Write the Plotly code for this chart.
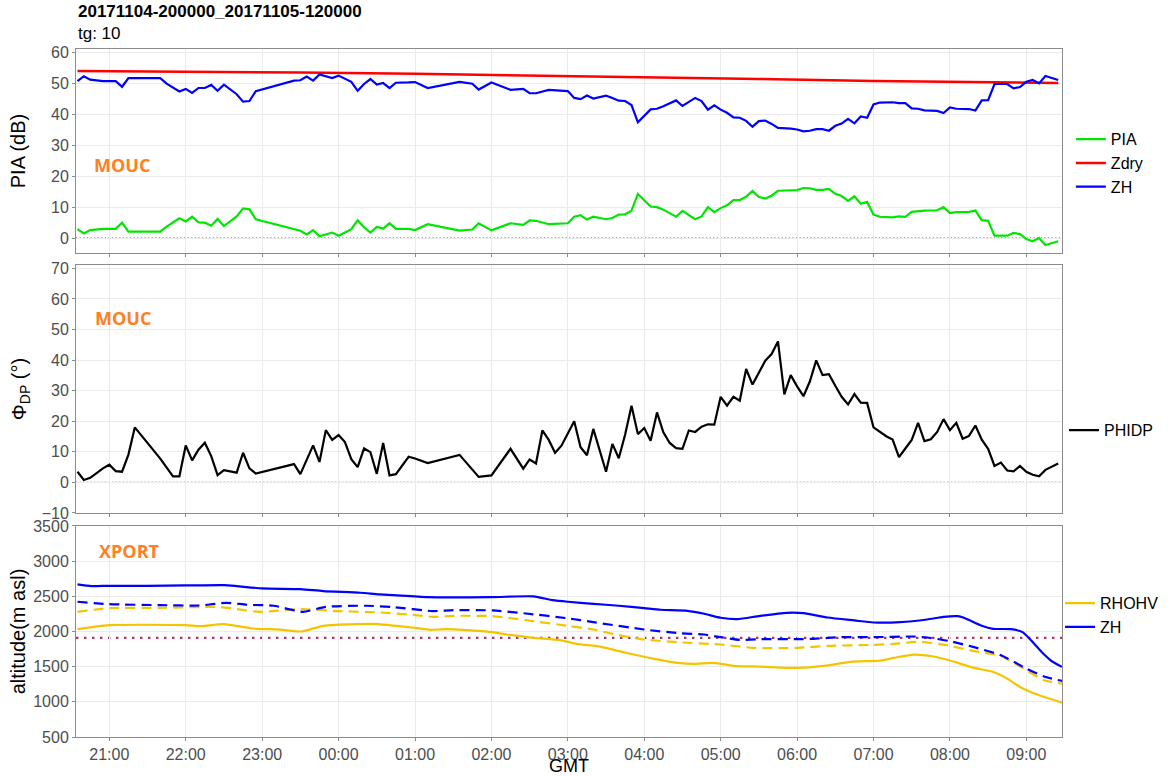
import pandas as pd
import plotly.graph_objects as go
from plotly.subplots import make_subplots

TITLE = "20171104-200000_20171105-120000"
SUBTITLE = "tg: 10"

# ---------------- Panel 1: PIA / Zdry / ZH (dB) ----------------
top_times = ["20:35", "20:40", "20:45", "20:55", "21:05", "21:10", "21:15", "21:40", "21:45", "21:55",
             "22:00", "22:05", "22:10", "22:15", "22:20", "22:25", "22:30", "22:40", "22:45", "22:50",
             "22:55", "23:25", "23:30", "23:35", "23:40", "23:45", "23:55", "00:00", "00:10", "00:15",
             "00:20", "00:25", "00:30", "00:35", "00:40", "00:45", "00:55", "01:00", "01:10", "01:35",
             "01:45", "01:50", "02:00", "02:15", "02:25", "02:30", "02:35", "02:45", "03:00", "03:05",
             "03:10", "03:15", "03:20", "03:30", "03:35", "03:40", "03:45", "03:50", "03:55", "04:05",
             "04:10", "04:15", "04:25", "04:30", "04:40", "04:45", "04:50", "04:55", "05:00", "05:05",
             "05:10", "05:15", "05:20", "05:25", "05:30", "05:35", "05:40", "05:45", "05:55", "06:00",
             "06:05", "06:10", "06:15", "06:20", "06:25", "06:30", "06:35", "06:40", "06:45", "06:50",
             "06:55", "07:00", "07:05", "07:15", "07:20", "07:25", "07:30", "07:35", "07:40", "07:50",
             "07:55", "08:00", "08:05", "08:15", "08:20", "08:25", "08:30", "08:35", "08:45", "08:50",
             "08:55", "09:00", "09:05", "09:10", "09:15", "09:25"]
pia_values = [2.9, 1.5, 2.6, 3.0, 3.0, 5.0, 2.1, 2.1, 3.7, 6.4,
              5.4, 6.9, 5.1, 5.0, 4.0, 6.2, 3.9, 7.0, 9.6, 9.3,
              6.1, 2.8, 2.4, 1.2, 2.6, 0.6, 1.8, 0.8, 2.9, 5.8,
              3.5, 1.8, 3.6, 3.1, 4.8, 3.0, 3.0, 2.6, 4.5, 2.4,
              2.8, 4.8, 2.5, 4.8, 4.3, 5.7, 5.6, 4.5, 4.8, 6.9,
              7.4, 6.0, 6.9, 6.1, 6.5, 7.6, 7.7, 8.9, 14.3, 10.2,
              10.0, 9.2, 6.9, 8.8, 6.1, 7.0, 10.0, 8.4, 9.7, 10.6,
              12.3, 12.3, 13.4, 15.2, 13.3, 12.8, 13.7, 15.3, 15.3, 15.5,
              16.2, 16.1, 15.6, 15.6, 15.9, 14.3, 13.6, 12.0, 13.5, 11.1,
              11.7, 7.6, 6.9, 6.7, 7.0, 6.9, 8.5, 8.7, 8.9, 9.0,
              10.0, 8.1, 8.4, 8.5, 8.9, 5.8, 5.6, 0.8, 0.8, 1.7,
              1.3, -0.3, -1.0, 0.0, -2.2, -1.0]
zh_top_values = [50.7, 52.3, 51.2, 50.7, 50.7, 48.9, 51.7, 51.7, 49.9, 47.4,
                 48.2, 46.9, 48.5, 48.5, 49.5, 47.6, 49.6, 46.5, 44.1, 44.3,
                 47.5, 50.9, 51.0, 52.2, 50.9, 52.9, 51.7, 52.5, 50.5, 47.6,
                 49.8, 51.4, 49.6, 50.1, 48.5, 50.2, 50.3, 50.4, 48.5, 50.5,
                 49.9, 48.0, 50.3, 47.9, 48.2, 46.8, 46.8, 47.9, 47.5, 45.3,
                 44.9, 46.1, 45.1, 46.0, 45.3, 44.4, 44.3, 43.0, 37.4, 41.6,
                 41.8, 42.6, 44.5, 42.7, 45.3, 44.3, 41.5, 42.9, 41.5, 40.5,
                 39.0, 38.9, 37.9, 36.0, 37.8, 38.0, 36.9, 35.6, 35.4, 35.1,
                 34.5, 34.7, 35.2, 35.2, 34.7, 36.3, 37.0, 38.5, 37.1, 39.3,
                 38.9, 43.2, 43.8, 43.9, 43.6, 43.6, 41.9, 41.8, 41.3, 41.1,
                 40.4, 42.2, 41.8, 41.7, 41.2, 44.5, 44.6, 49.8, 49.8, 48.4,
                 48.8, 50.5, 51.1, 50.0, 52.4, 51.1]
zdry_times = ["20:35", "22:00", "23:30", "01:00", "02:30", "04:00", "05:30", "07:00", "08:30", "09:25"]
zdry_values = [54.0, 53.8, 53.5, 53.1, 52.6, 52.0, 51.4, 50.8, 50.3, 50.1]

# ---------------- Panel 2: PHIDP (deg) ----------------
phidp_times = ["20:35", "20:40", "20:45", "20:55", "21:00", "21:05", "21:10", "21:15", "21:20", "21:40",
               "21:50", "21:55", "22:00", "22:05", "22:10", "22:15", "22:20", "22:25", "22:30", "22:40",
               "22:45", "22:50", "22:55", "23:25", "23:30", "23:40", "23:45", "23:50", "23:55", "00:00",
               "00:05", "00:10", "00:15", "00:20", "00:25", "00:30", "00:35", "00:40", "00:45", "00:55",
               "01:00", "01:10", "01:35", "01:50", "02:00", "02:15", "02:25", "02:30", "02:35", "02:40",
               "02:45", "02:50", "02:55", "03:00", "03:05", "03:10", "03:15", "03:20", "03:25", "03:30",
               "03:35", "03:40", "03:45", "03:50", "03:55", "04:00", "04:05", "04:10", "04:15", "04:20",
               "04:25", "04:30", "04:35", "04:40", "04:45", "04:50", "04:55", "05:00", "05:05", "05:10",
               "05:15", "05:20", "05:25", "05:30", "05:35", "05:40", "05:45", "05:50", "05:55", "06:00",
               "06:05", "06:10", "06:15", "06:20", "06:25", "06:30", "06:35", "06:40", "06:45", "06:50",
               "06:55", "07:00", "07:05", "07:10", "07:15", "07:20", "07:25", "07:30", "07:35", "07:40",
               "07:45", "07:50", "07:55", "08:00", "08:05", "08:10", "08:15", "08:20", "08:25", "08:30",
               "08:35", "08:40", "08:45", "08:50", "08:55", "09:00", "09:05", "09:10", "09:15", "09:25"]
phidp_values = [3.5, 0.8, 1.5, 4.6, 5.8, 3.7, 3.5, 9.1, 18.0, 7.8,
                2.0, 2.0, 12.1, 7.2, 10.7, 13.0, 8.6, 2.4, 4.0, 3.2,
                9.7, 4.6, 2.9, 6.0, 2.7, 12.1, 6.7, 17.1, 13.9, 15.5,
                13.2, 7.6, 5.0, 11.1, 9.9, 2.8, 12.9, 2.3, 2.7, 8.4,
                7.8, 6.3, 9.0, 1.8, 2.3, 11.0, 4.5, 7.5, 6.2, 17.0,
                13.9, 9.7, 12.0, 16.0, 20.0, 11.5, 8.9, 17.5, 10.2, 3.5,
                12.6, 7.9, 15.7, 25.1, 15.8, 17.8, 13.6, 22.9, 16.4, 12.9,
                11.2, 11.0, 17.0, 16.5, 18.2, 19.0, 18.9, 28.0, 25.1, 28.0,
                26.7, 37.1, 32.0, 36.0, 39.8, 42.0, 46.1, 28.8, 35.1, 31.4,
                28.2, 33.0, 39.9, 35.1, 35.4, 31.6, 28.0, 25.5, 28.9, 26.1,
                26.0, 18.0, 16.6, 15.1, 14.0, 8.3, 11.1, 13.9, 19.5, 13.5,
                14.1, 16.5, 20.7, 17.1, 19.5, 14.3, 15.2, 18.6, 14.0, 11.0,
                5.4, 6.5, 3.9, 3.6, 5.4, 3.5, 2.5, 2.0, 4.1, 6.2]

# ---------------- Panel 3: altitude (m asl), XPORT ----------------
zh_solid_times = ["20:35", "20:46", "21:00", "21:30", "22:00", "22:30", "22:40", "23:00", "23:30", "23:48",
                  "00:17", "00:32", "01:00", "01:10", "02:00", "02:33", "02:48", "03:00", "03:20", "03:40",
                  "04:00", "04:13", "04:34", "04:47", "05:00", "05:13", "05:31", "05:52", "06:05", "06:24",
                  "06:45", "07:00", "07:21", "07:42", "07:55", "08:06", "08:11", "08:25", "08:34", "08:48",
                  "08:57", "09:06", "09:14", "09:20", "09:28"]
zh_solid_values = [2669, 2646, 2650, 2650, 2655, 2660, 2646, 2612, 2603, 2574,
                   2551, 2527, 2499, 2489, 2489, 2499, 2446, 2423, 2394, 2366,
                   2332, 2309, 2294, 2252, 2195, 2176, 2223, 2266, 2261, 2199,
                   2157, 2128, 2133, 2171, 2209, 2218, 2195, 2081, 2038, 2033,
                   1991, 1829, 1672, 1577, 1497]
zh_dash_times = ["20:35", "21:00", "21:40", "22:11", "22:32", "22:48", "23:09", "23:32", "23:50", "00:22",
                 "00:43", "01:14", "01:30", "02:01", "02:27", "02:59", "03:20", "04:00", "04:28", "04:47",
                 "05:00", "05:15", "05:31", "06:00", "06:13", "06:34", "07:00", "07:29", "07:42", "08:00",
                 "08:19", "08:40", "09:00", "09:14", "09:28"]
zh_dash_values = [2423, 2389, 2375, 2370, 2408, 2380, 2366, 2280, 2351, 2366,
                  2347, 2290, 2304, 2299, 2256, 2190, 2133, 2028, 1976, 1957,
                  1919, 1881, 1891, 1891, 1896, 1919, 1919, 1929, 1915, 1862,
                  1777, 1663, 1473, 1359, 1297]
rhohv_solid_times = ["20:35", "21:00", "22:00", "22:11", "22:30", "22:53", "23:14", "23:31", "23:48", "00:27",
                     "01:00", "01:12", "01:25", "02:01", "02:12", "02:33", "02:54", "03:07", "03:26", "03:47",
                     "04:08", "04:26", "04:39", "04:55", "05:10", "05:31", "06:00", "06:21", "06:42", "07:05",
                     "07:16", "07:32", "07:47", "08:00", "08:19", "08:34", "08:45", "08:55", "09:08", "09:28"]
rhohv_solid_values = [2033, 2090, 2090, 2076, 2104, 2043, 2028, 2000, 2081, 2109,
                      2052, 2024, 2033, 1991, 1957, 1910, 1877, 1824, 1782, 1691,
                      1611, 1554, 1539, 1554, 1511, 1501, 1482, 1511, 1568, 1587,
                      1625, 1672, 1644, 1587, 1482, 1425, 1330, 1212, 1107, 989]
rhohv_dash_times = ["20:35", "21:00", "21:40", "22:27", "22:40", "22:58", "23:30", "00:00", "00:32", "01:00",
                    "01:14", "01:30", "02:01", "02:27", "03:00", "03:20", "03:40", "04:00", "04:26", "05:00",
                    "05:26", "06:00", "06:24", "07:00", "07:16", "07:37", "08:00", "08:19", "08:40", "09:00",
                    "09:14", "09:28"]
rhohv_dash_values = [2280, 2332, 2337, 2347, 2318, 2280, 2318, 2290, 2271, 2233,
                     2209, 2223, 2218, 2161, 2080, 2028, 1948, 1886, 1848, 1815,
                     1767, 1767, 1796, 1810, 1824, 1853, 1796, 1720, 1653, 1449,
                     1307, 1259]

ZERO_REF = 0
ALT_REF = 1910
X_START = "2017-11-04 20:33:50"
X_END = "2017-11-05 09:28:00"

y1_ticks = [0, 10, 20, 30, 40, 50, 60]
y2_ticks = [-10, 0, 10, 20, 30, 40, 50, 60, 70]
y3_ticks = [500, 1000, 1500, 2000, 2500, 3000, 3500]


def to_dt(times):
    out = []
    for t in times:
        h = int(t[:2])
        day = "2017-11-04" if h >= 20 else "2017-11-05"
        out.append(pd.Timestamp(f"{day} {t}"))
    return out


GREEN = "#00E600"
RED = "#FF0000"
BLUE = "#0000FF"
GOLD = "#F2C500"
ORANGE = "#FF7F24"
FONT = "Liberation Sans, Arial, sans-serif"
TICK_COLOR = "#4D4D4D"
GRID = "#EBEBEB"
BORDER = "#8C8C8C"

fig = make_subplots(rows=3, cols=1, shared_xaxes=True, vertical_spacing=0.02)

LW = 2.2
fig.add_trace(go.Scatter(x=to_dt(top_times), y=pia_values, mode="lines", name="PIA",
                         line=dict(color=GREEN, width=LW), legend="legend"), row=1, col=1)
fig.add_trace(go.Scatter(x=to_dt(zdry_times), y=zdry_values, mode="lines", name="Zdry",
                         line=dict(color=RED, width=LW + 0.3), legend="legend"), row=1, col=1)
fig.add_trace(go.Scatter(x=to_dt(top_times), y=zh_top_values, mode="lines", name="ZH",
                         line=dict(color=BLUE, width=LW), legend="legend"), row=1, col=1)

fig.add_trace(go.Scatter(x=to_dt(phidp_times), y=phidp_values, mode="lines", name="PHIDP",
                         line=dict(color="black", width=LW), legend="legend2"), row=2, col=1)

fig.add_trace(go.Scatter(x=to_dt(rhohv_solid_times), y=rhohv_solid_values, mode="lines", name="RHOHV",
                         line=dict(color=GOLD, width=LW, shape="spline", smoothing=0.6),
                         legend="legend3"), row=3, col=1)
fig.add_trace(go.Scatter(x=to_dt(zh_solid_times), y=zh_solid_values, mode="lines", name="ZH",
                         line=dict(color=BLUE, width=LW, shape="spline", smoothing=0.6),
                         legend="legend3"), row=3, col=1)
fig.add_trace(go.Scatter(x=to_dt(rhohv_dash_times), y=rhohv_dash_values, mode="lines", name="RHOHV",
                         line=dict(color=GOLD, width=LW, dash="10px,6px", shape="spline", smoothing=0.6),
                         showlegend=False, legend="legend3"), row=3, col=1)
fig.add_trace(go.Scatter(x=to_dt(zh_dash_times), y=zh_dash_values, mode="lines", name="ZH",
                         line=dict(color=BLUE, width=LW, dash="10px,6px", shape="spline", smoothing=0.6),
                         showlegend=False, legend="legend3"), row=3, col=1)

# reference lines
fig.add_hline(y=ZERO_REF, row=1, col=1, line=dict(color="#444444", width=1.2, dash="1.2px,2.4px"), layer="below")
fig.add_hline(y=ZERO_REF, row=2, col=1, line=dict(color="#444444", width=1.2, dash="1.2px,2.4px"), layer="below")
fig.add_hline(y=ALT_REF, row=3, col=1, line=dict(color="#B03060", width=2.4, dash="2.4px,5.6px"), layer="below")

axis_common = dict(showgrid=True, gridcolor=GRID, gridwidth=1, showline=True, linecolor=BORDER,
                   linewidth=1, mirror=True, ticks="outside", ticklen=3, tickcolor=BORDER,
                   tickfont=dict(family=FONT, size=16, color=TICK_COLOR), zeroline=False,
                   automargin=False)

for i in (1, 2, 3):
    fig.update_xaxes(type="date", range=[X_START, X_END], dtick=3600000, tick0="2017-11-04 21:00",
                     tickformat="%H:%M", row=i, col=1, **axis_common)
fig.update_xaxes(title=dict(text="GMT", font=dict(family=FONT, size=18, color="black"), standoff=2),
                 row=3, col=1)

TITLE_FONT = dict(family=FONT, size=20, color="black")
fig.update_yaxes(range=[-4.8, 61.1], tickvals=y1_ticks, row=1, col=1,
                 title=dict(text="PIA (dB)", font=TITLE_FONT, standoff=19), **axis_common)
fig.update_yaxes(range=[-10, 71.1], tickvals=y2_ticks, row=2, col=1,
                 title=dict(text="Φ<sub>DP</sub> (°)", font=TITLE_FONT, standoff=9), **axis_common)
fig.update_yaxes(range=[500, 3500], tickvals=y3_ticks, row=3, col=1,
                 title=dict(text="altitude(m asl)", font=TITLE_FONT, standoff=2), **axis_common)

fig.update_layout(yaxis=dict(domain=[0.7035, 1.0]),
                  yaxis2=dict(domain=[0.3256, 0.686]),
                  yaxis3=dict(domain=[0.0, 0.3067]))

legend_common = dict(bgcolor="rgba(0,0,0,0)", font=dict(family=FONT, size=16, color="black"),
                     xanchor="left", yanchor="middle", traceorder="normal", itemwidth=30)
fig.update_layout(
    legend=dict(x=1.009, y=0.834, **legend_common),
    legend2=dict(x=1.002, y=0.446, **legend_common),
    legend3=dict(x=0.998, y=0.177, **legend_common),
)

ann_font = dict(family="Open Sans, sans-serif", size=18, color=ORANGE, weight="bold")
fig.add_annotation(text="<b>MOUC</b>", xref="x domain", yref="y domain", x=0.016, y=0.431,
                   xanchor="left", yanchor="middle", showarrow=False, font=ann_font)
fig.add_annotation(text="<b>MOUC</b>", xref="x2 domain", yref="y2 domain", x=0.017, y=0.786,
                   xanchor="left", yanchor="middle", showarrow=False, font=ann_font)
fig.add_annotation(text="<b>XPORT</b>", xref="x3 domain", yref="y3 domain", x=0.021, y=0.882,
                   xanchor="left", yanchor="middle", showarrow=False, font=ann_font)

fig.add_annotation(text=f"<b>{TITLE}</b>", xref="paper", yref="paper", x=0, y=1.054,
                   xanchor="left", yanchor="middle", showarrow=False,
                   font=dict(family=FONT, size=17, color="black"))
fig.add_annotation(text=SUBTITLE, xref="paper", yref="paper", x=0, y=1.022,
                   xanchor="left", yanchor="middle", showarrow=False,
                   font=dict(family=FONT, size=17, color="black"))

fig.update_layout(width=1174, height=776, autosize=False,
                  margin=dict(l=76, r=112, t=49, b=39, autoexpand=False),
                  paper_bgcolor="white", plot_bgcolor="white",
                  font=dict(family=FONT))

fig.write_html("out.html", config={"displayModeBar": False},
               post_script="document.body.style.margin='0';document.body.style.padding='0';")
